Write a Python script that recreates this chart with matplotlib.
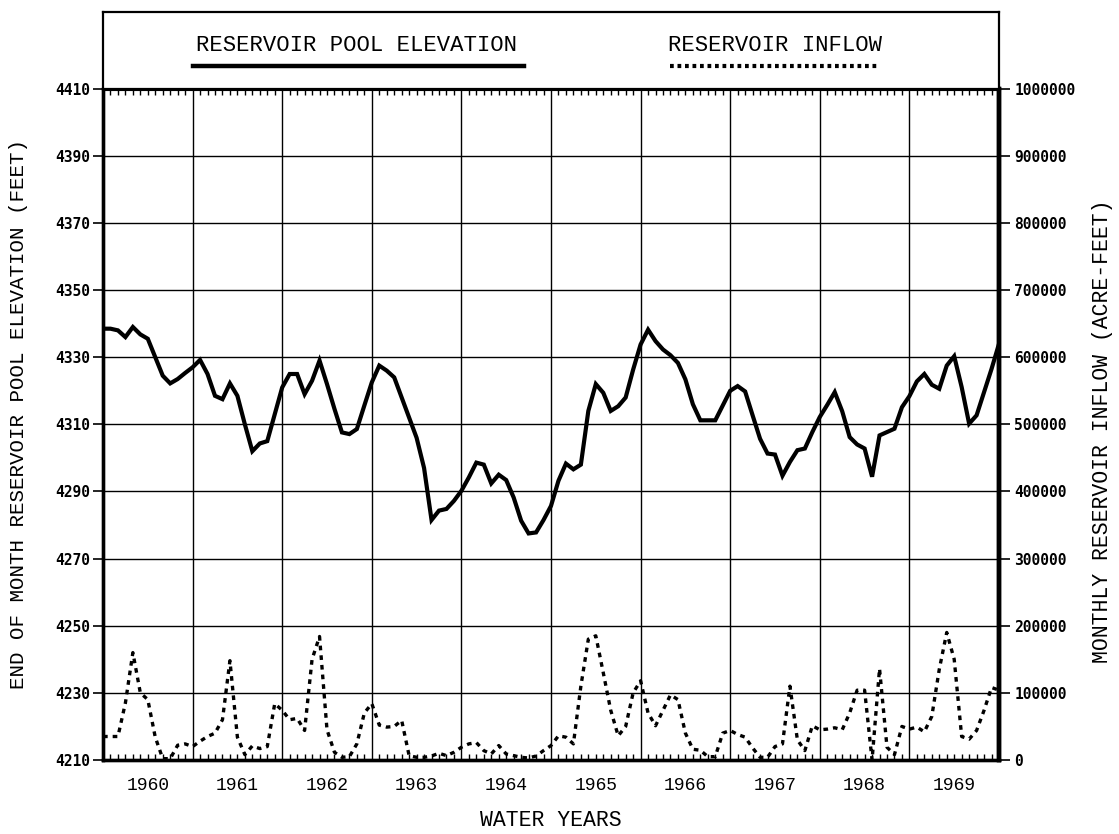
import numpy as np
import matplotlib
matplotlib.use("Agg")
import matplotlib.pyplot as plt
from matplotlib.lines import Line2D
from matplotlib.ticker import FixedLocator, FuncFormatter

# month index 0..120 from start of WY1960 (Oct 1959) to end of WY1969
elevation = [
    4338.5, 4338.5, 4338, 4336, 4339, 4336.8, 4335.5, 4330, 4324.5, 4322.2,
    4323.5, 4325.3, 4327, 4329.2, 4325, 4318.5, 4317.5, 4322.2, 4318.5, 4310,
    4302, 4304.3, 4305, 4313, 4321, 4325, 4325, 4319, 4323, 4329,
    4322, 4314.6, 4307.6, 4307.1, 4308.6, 4315.6, 4322.5, 4327.5, 4326, 4324,
    4318, 4312, 4306, 4297, 4281.5, 4284.3, 4284.8, 4287.2, 4290.2, 4294.2,
    4298.6, 4298, 4292.4, 4295, 4293.4, 4288.2, 4281.3, 4277.5, 4277.8, 4281.5,
    4285.7, 4293.2, 4298.3, 4296.6, 4298, 4314, 4322, 4319.4, 4314, 4315.4,
    4318, 4326.3, 4333.8, 4338.2, 4334.8, 4332.3, 4330.6, 4328.3, 4323.4, 4316,
    4311.2, 4311.2, 4311.2, 4315.6, 4320, 4321.4, 4319.8, 4312.7, 4305.7, 4301.3,
    4301, 4294.7, 4298.8, 4302.3, 4302.8, 4307.7, 4312.2, 4315.8, 4319.6, 4313.9,
    4306.2, 4304, 4302.8, 4294.4, 4306.7, 4307.7, 4308.7, 4315.1, 4318.4, 4322.8,
    4325, 4321.8, 4320.6, 4327.5, 4330.3, 4321.1, 4310.2, 4312.7, 4319.6, 4326.5,
    4334,
]

inflow = [
    35000, 35000, 35000, 85000, 160000, 100000, 90000, 34000, 2000, 2000,
    22000, 24000, 20000, 28000, 35000, 40000, 60000, 148000, 34000, 8000,
    21000, 17000, 20000, 84000, 74000, 60000, 62000, 44000, 150000, 184000,
    45000, 11500, 4000, 5000, 24000, 70000, 84000, 52000, 49000, 50000,
    59000, 6500, 4000, 4000, 6000, 10000, 6500, 11500, 19000, 24000,
    26000, 14000, 9000, 21500, 9000, 6500, 4000, 3000, 6000, 14000,
    21500, 36000, 34000, 24000, 110000, 180000, 185000, 130000, 74000, 36000,
    50000, 100000, 118000, 70000, 51000, 74000, 97000, 90000, 40000, 16000,
    14500, 5000, 5000, 40000, 44000, 38000, 34000, 18000, 4000, 4000,
    20000, 24000, 110000, 30000, 14000, 51000, 45000, 46000, 48000, 45000,
    70000, 104000, 104000, 0, 136000, 19000, 8000, 50000, 46000, 49000,
    42000, 65000, 135000, 190000, 150000, 35000, 31000, 44000, 74000, 108000,
    104000,
]

years = ["1960", "1961", "1962", "1963", "1964", "1965", "1966", "1967", "1968", "1969"]
elev_ticks = list(range(4210, 4411, 20))
flow_ticks = list(range(0, 1000001, 100000))

thin = ["Liberation Mono", "DejaVu Sans Mono"]
bold = ["DejaVu Sans Mono"]
months = np.arange(len(elevation))

W, H = 1119, 834
fig = plt.figure(figsize=(W / 100, H / 100), dpi=100)
x0, x1, ytop, ybot = 103, 999, 88.7, 760
ax = fig.add_axes([x0 / W, 1 - ybot / H, (x1 - x0) / W, (ybot - ytop) / H])
ax2 = ax.twinx()

ax.set_xlim(0, 120)
ax.set_ylim(4210, 4410)
ax2.set_ylim(0, 1000000)

ax.plot(months, elevation, color="black", lw=3.0, solid_joinstyle="miter", zorder=5)
ax2.plot(months, inflow, color="black", lw=2.4, linestyle=(0, (1.4, 1.5)),
         dash_capstyle="butt", zorder=5)

# grid
ax.xaxis.set_major_locator(FixedLocator(np.arange(0, 121, 12)))
ax.xaxis.set_minor_locator(FixedLocator(np.arange(0, 121, 1)))
ax.set_xticklabels([])
ax.tick_params(axis="x", which="major", length=0)
ax.tick_params(axis="x", which="minor", direction="in", length=4, width=1,
               top=True, bottom=True)
ax.set_yticks(elev_ticks)
ax.grid(True, which="major", color="black", lw=1.0)
ax.tick_params(axis="y", which="major", direction="out", length=7, width=1.2,
               labelsize=10.5, pad=2)
for lab in ax.get_yticklabels():
    lab.set_family(bold)
    lab.set_fontweight("bold")

ax2.set_yticks(flow_ticks)
ax2.yaxis.set_major_formatter(FuncFormatter(lambda v, p: f"{int(v)}"))
ax2.tick_params(axis="y", direction="out", length=8, width=1.2, labelsize=10.5, pad=3)
for lab in ax2.get_yticklabels():
    lab.set_family(bold)
    lab.set_fontweight("bold")

sec = ax.secondary_xaxis("bottom")
sec.set_xticks(np.arange(6, 120, 12), years)
sec.tick_params(length=0, pad=12, labelsize=13)
for lab in sec.get_xticklabels():
    lab.set_family(thin)
sec.spines["bottom"].set_visible(False)

for sp, w in [("left", 2.4), ("bottom", 2.4), ("top", 2.2), ("right", 3.2)]:
    ax.spines[sp].set_linewidth(w)
    ax2.spines[sp].set_linewidth(w)

ax.set_xlabel("WATER YEARS", family=thin, fontsize=15.5)
ax.xaxis.set_label_coords(0.5, -0.075)
ax.set_ylabel("END OF MONTH RESERVOIR POOL ELEVATION (FEET)", family=thin, fontsize=15)
ax.yaxis.set_label_coords(-0.084, 0.515)
ax2.set_ylabel("MONTHLY RESERVOIR INFLOW (ACRE-FEET)", family=thin, fontsize=15.5)
ax2.yaxis.set_label_coords(1.104, 0.49)

# legend box on top
lax = fig.add_axes([x0 / W, 1 - ytop / H, (x1 - x0) / W, (ytop - 12) / H])
lax.set_xlim(0, 1)
lax.set_ylim(0, 1)
lax.set_xticks([])
lax.set_yticks([])
for sp in lax.spines.values():
    sp.set_linewidth(1.6)
lax.text(0.283, 0.56, "RESERVOIR POOL ELEVATION", family=thin, fontsize=16,
         ha="center", va="center")
lax.add_line(Line2D([0.101, 0.470], [0.30, 0.30], color="black", lw=3.2))
lax.text(0.75, 0.56, "RESERVOIR INFLOW", family=thin, fontsize=16,
         ha="center", va="center")
lax.add_line(Line2D([0.633, 0.865], [0.30, 0.30], color="black", lw=3.0,
                    linestyle=(0, (0.9, 0.9))))

fig.savefig("out.png", dpi=100)
